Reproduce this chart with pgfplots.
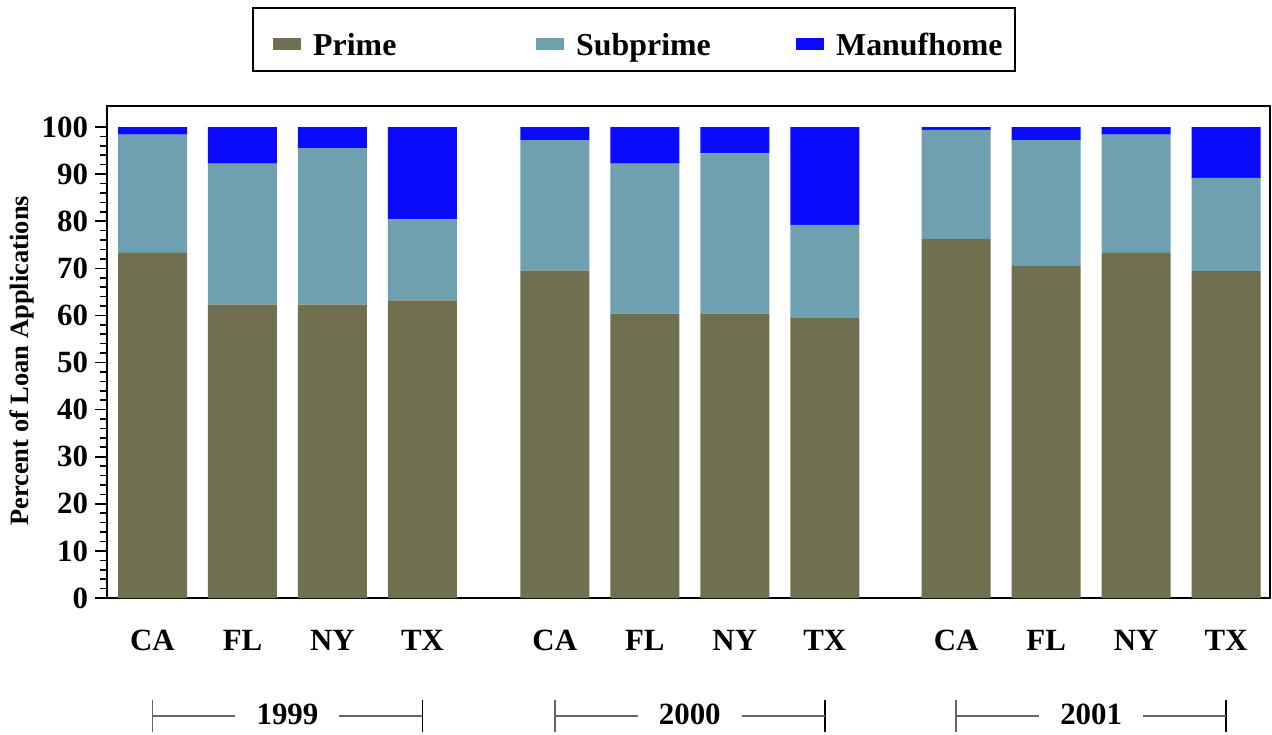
\documentclass[border=0pt]{standalone}
\usepackage{pgfplots}
\usepackage{pgfplotstable}
\pgfplotsset{compat=1.18}
\usepackage{fontspec}
\setmainfont{Liberation Serif}
\definecolor{primecol}{RGB}{112,111,79}
\definecolor{subcol}{RGB}{111,160,176}
\definecolor{mancol}{RGB}{10,10,255}
\pgfplotstableread{
x prime sub man
0 73.3 25.1 1.6
1 62.3 29.9 7.8
2 62.3 33.2 4.5
3 63.2 17.2 19.6
4.47 69.5 27.7 2.8
5.47 60.4 31.8 7.8
6.47 60.4 34.0 5.6
7.47 59.4 19.8 20.8
8.93 76.2 23.2 0.6
9.93 70.5 26.7 2.8
10.93 73.3 25.1 1.6
11.93 69.4 19.8 10.8
}\datatable
\newcommand\grp[4]{%
  \draw[gray!80!black, line width=0.8bp] ([yshift=-59bp]axis cs:#1,0) -- ([yshift=-59bp,xshift=-26bp]axis cs:#3,0);
  \draw[gray!80!black, line width=0.8bp] ([yshift=-59bp,xshift=26bp]axis cs:#3,0) -- ([yshift=-59bp]axis cs:#2,0);
  \draw[gray!80!black, line width=0.8bp] ([yshift=-51bp]axis cs:#1,0) -- ([yshift=-67bp]axis cs:#1,0);
  \draw[black, line width=0.8bp] ([yshift=-51bp]axis cs:#2,0) -- ([yshift=-67bp]axis cs:#2,0);
  \node[font=\fontsize{15.5}{18}\selectfont\bfseries, anchor=center] at ([yshift=-58bp]axis cs:#3,0) {#4};
}
\newcommand\lstrut{\rule[-6.5bp]{0pt}{23.5bp}}
\begin{document}
\begin{tikzpicture}
\path[use as bounding box] (-53.5bp,-68.5bp) rectangle (582.5bp,299bp);
\begin{axis}[
  at={(0,0)}, anchor=south west,
  scale only axis, width=581.5bp, height=246bp,
  xmin=-0.5056, xmax=12.417, ymin=0, ymax=104.46,
  ybar stacked, bar width=34.5bp,
  clip=false,
  axis line style={black, line width=1bp},
  xtick={0,1,2,3,4.47,5.47,6.47,7.47,8.93,9.93,10.93,11.93},
  xticklabels={CA,FL,NY,TX,CA,FL,NY,TX,CA,FL,NY,TX},
  x tick style={draw=none},
  ytick={0,10,...,100},
  minor y tick num=4,
  ytick pos=left,
  tick align=outside,
  major tick length=6bp, minor tick length=3.5bp,
  y tick style={black, line width=0.8bp},
  /pgf/number format/assume math mode=true,
  tick label style={font=\fontsize{15.5}{18}\selectfont\bfseries},
  xticklabel style={yshift=-6.5bp},
  ylabel={Percent of Loan Applications},
  ylabel style={at={(axis description cs:-0.0731,0.482)}, anchor=center, font=\fontsize{13.3}{15}\selectfont\bfseries},
  legend columns=3,
  legend style={at={(0.4531,1)}, anchor=south, yshift=17bp, draw=black, line width=1bp,
    font=\fontsize{16}{19}\selectfont\bfseries, inner xsep=10bp, inner ysep=4.5bp,
    /tikz/every odd column/.append style={column sep=4bp}},
  legend image code/.code={\fill[#1] (0bp,-5bp) rectangle (14bp,1bp);},
]
\addplot[fill=primecol, draw=none] table[x=x,y=prime]{\datatable};
\addlegendentry{\makebox[109.5bp][l]{\lstrut Prime}}
\addplot[fill=subcol, draw=none] table[x=x,y=sub]{\datatable};
\addlegendentry{\makebox[108bp][l]{\lstrut Subprime}}
\addplot[fill=mancol, draw=none] table[x=x,y=man]{\datatable};
\addlegendentry{\lstrut Manufhome\hspace*{-6bp}}
\grp{0}{3}{1.5}{1999}
\grp{4.47}{7.47}{5.97}{2000}
\grp{8.93}{11.93}{10.43}{2001}
\end{axis}
\end{tikzpicture}
\end{document}
